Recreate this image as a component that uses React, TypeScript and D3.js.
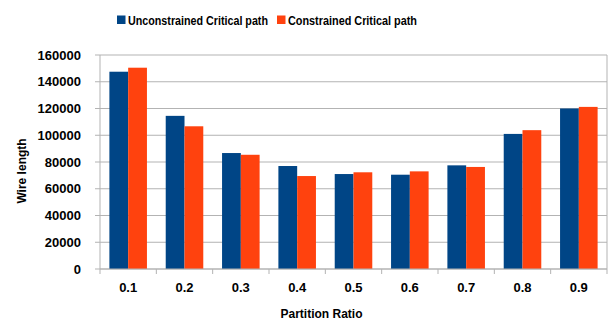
import React from "react";
import * as d3 from "d3";

const categories = ["0.1", "0.2", "0.3", "0.4", "0.5", "0.6", "0.7", "0.8", "0.9"];
const seriesNames = ["Unconstrained Critical path", "Constrained Critical path"];
const unconstrained = [147500, 114500, 86700, 77000, 71000, 70500, 77500, 101000, 120000];
const constrained = [150500, 106700, 85400, 69500, 72300, 73000, 76300, 103800, 121200];
const yTicks = [0, 20000, 40000, 60000, 80000, 100000, 120000, 140000, 160000];
const colors = ["#004586", "#ff420e"];

const W = 611, H = 320;
const left = 100, right = 607, top = 55, bottom = 269;
const font = "'Liberation Sans', Arial, sans-serif";
const grid = "#b3b3b3";

export default function App() {
  const x = d3.scaleBand<string>().domain(categories).range([left, right]).padding(0);
  const inner = d3.scaleBand<number>().domain([0, 1]).range([0, x.bandwidth()]).paddingInner(0).paddingOuter(0.5);
  const y = d3.scaleLinear().domain([0, 160000]).range([bottom, top]);
  const series = [unconstrained, constrained];

  return (
    <svg width={W} height={H} style={{ position: "absolute", left: 0, top: 0 }} fontFamily={font}>
      {yTicks.map((t) => (
        <line key={"g" + t} x1={left - 5} x2={right} y1={y(t)} y2={y(t)} stroke={grid} strokeWidth={1} />
      ))}
      {yTicks.map((t) => (
        <text key={"yl" + t} x={81} y={y(t)} dy="0.36em" textAnchor="end" fontSize={13} fontWeight="bold" fill="#000">
          {t}
        </text>
      ))}
      <line x1={left} x2={left} y1={top} y2={bottom} stroke={grid} />
      <line x1={right} x2={right} y1={top} y2={bottom} stroke={grid} />
      {series.map((vals, si) =>
        vals.map((v, i) => (
          <rect
            key={si + "-" + i}
            x={(x(categories[i]) as number) + (inner(si) as number)}
            y={y(v)}
            width={inner.bandwidth()}
            height={bottom - y(v)}
            fill={colors[si]}
          />
        ))
      )}
      <line x1={left} x2={right} y1={bottom} y2={bottom} stroke={grid} />
      {categories.map((c, i) => (
        <line key={"xt" + i} x1={x(c) as number} x2={x(c) as number} y1={bottom} y2={bottom + 5} stroke={grid} />
      ))}
      <line x1={right} x2={right} y1={bottom} y2={bottom + 5} stroke={grid} />
      {categories.map((c) => (
        <text key={"xl" + c} x={(x(c) as number) + x.bandwidth() / 2} y={292} textAnchor="middle" fontSize={13} fontWeight="bold">
          {c}
        </text>
      ))}
      <text x={321.5} y={318} textAnchor="middle" fontSize={12} fontWeight="bold">Partition Ratio</text>
      <text transform="translate(26,171) rotate(-90)" textAnchor="middle" fontSize={12} fontWeight="bold">Wire length</text>
      <rect x={117} y={15.5} width={8.5} height={8.5} fill={colors[0]} />
      <text transform="translate(128,25) scale(1,1.22)" fontSize={11} fontWeight="bold" textLength={140} lengthAdjust="spacingAndGlyphs">{seriesNames[0]}</text>
      <rect x={277} y={15.5} width={8.5} height={8.5} fill={colors[1]} />
      <text transform="translate(288,25) scale(1,1.22)" fontSize={11} fontWeight="bold" textLength={129} lengthAdjust="spacingAndGlyphs">{seriesNames[1]}</text>
    </svg>
  );
}
